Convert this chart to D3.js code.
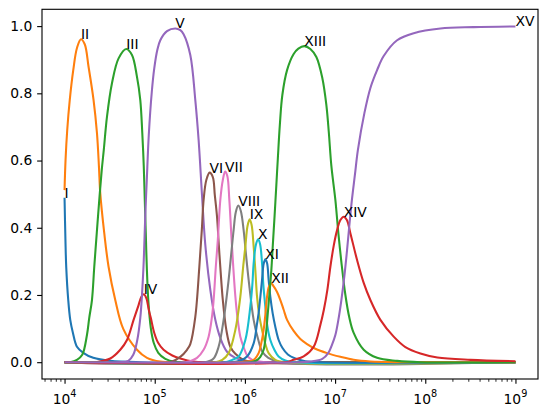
<!DOCTYPE html>
<html><head><meta charset="utf-8">
<script src="https://cdn.jsdelivr.net/npm/d3@7"></script>
<style>body{margin:0;background:#fff} svg{display:block} text{font-family:"DejaVu Sans",sans-serif}</style>
</head><body>
<svg id="chart" width="547" height="417"></svg>
<script>
const labels = ["I","II","III","IV","V","VI","VII","VIII","IX","X","XI","XII","XIII","XIV","XV"];
const colors = ["#1f77b4","#ff7f0e","#2ca02c","#d62728","#9467bd","#8c564b","#e377c2","#7f7f7f","#bcbd22","#17becf","#1f77b4","#ff7f0e","#2ca02c","#d62728","#9467bd"];

const curveI = [[1e4,0.489],[1.023e4,0.364],[1.044e4,0.283],[1.099e4,0.185],[1.157e4,0.126],[1.239e4,0.087],[1.373e4,0.046],[1.612e4,0.028],[2.082e4,0.013],[3.214e4,0.004],[7e4,0],[1e9,0]];
const curveII = [[1e4,0.512],[1.026e4,0.602],[1.071e4,0.691],[1.142e4,0.780],[1.249e4,0.869],[1.373e4,0.935],[1.520e4,0.961],[1.675e4,0.946],[1.846e4,0.879],[2.098e4,0.780],[2.288e4,0.682],[2.407e4,0.582],[2.489e4,0.503],[2.757e4,0.384],[3.077e4,0.284],[3.651e4,0.185],[4.479e4,0.099],[6.357e4,0.037],[8.207e4,0.013],[1.153e5,0.002],[1.922e5,0],[1e9,0]];
const curveIII = [[1e4,0],[1.157e4,0],[1.373e4,0.007],[1.572e4,0.022],[1.772e4,0.081],[1.879e4,0.132],[2.014e4,0.185],[2.136e4,0.284],[2.276e4,0.384],[2.427e4,0.483],[2.586e4,0.572],[2.722e4,0.631],[2.954e4,0.730],[3.356e4,0.830],[3.973e4,0.904],[4.836e4,0.932],[5.594e4,0.914],[6.357e4,0.849],[6.918e4,0.780],[7.278e4,0.682],[7.561e4,0.582],[7.757e4,0.483],[7.958e4,0.384],[8.165e4,0.284],[8.485e4,0.185],[9.042e4,0.102],[9.763e4,0.057],[1.095e5,0.028],[1.310e5,0.010],[1.691e5,0.001],[2.2e5,0],[1e9,0]];
const curveIV = [[1e4,0],[2.191e4,0],[3.214e4,0.011],[4.150e4,0.037],[4.923e4,0.066],[5.829e4,0.126],[6.622e4,0.170],[7.094e4,0.194],[7.561e4,0.202],[8.061e4,0.191],[8.592e4,0.156],[9.042e4,0.132],[9.888e4,0.087],[1.095e5,0.057],[1.254e5,0.037],[1.566e5,0.020],[1.922e5,0.011],[2.678e5,0.002],[4.136e5,0],[1e9,0]];
const curveV = [[1e4,0],[3.943e4,0],[5.090e4,0.004],[5.783e4,0.022],[6.406e4,0.066],[6.918e4,0.132],[7.278e4,0.215],[7.561e4,0.304],[7.859e4,0.438],[8.165e4,0.542],[8.592e4,0.676],[9.277e4,0.804],[9.888e4,0.875],[1.068e5,0.929],[1.153e5,0.958],[1.368e5,0.985],[1.691e5,0.993],[1.922e5,0.988],[2.090e5,0.976],[2.480e5,0.914],[2.818e5,0.780],[3.067e5,0.661],[3.344e5,0.497],[3.638e5,0.349],[4.135e5,0.215],[4.697e5,0.126],[5.337e5,0.072],[6.334e5,0.031],[7.829e5,0.013],[1.011e6,0.004],[1.305e6,0],[1e9,0]];
const curveVI = [[1e4,0],[1.488e5,0],[1.921e5,0.016],[2.280e5,0.037],[2.480e5,0.054],[2.818e5,0.135],[3.122e5,0.283],[3.327e5,0.393],[3.484e5,0.483],[3.733e5,0.542],[4.060e5,0.564],[4.407e5,0.551],[4.638e5,0.497],[4.906e5,0.433],[5.136e5,0.349],[5.337e5,0.283],[5.689e5,0.185],[6.222e5,0.096],[6.889e5,0.046],[7.829e5,0.025],[9.678e5,0.007],[1.305e6,0],[1e9,0]];
const curveVII = [[1e4,0],[2.183e5,0],[2.943e5,0.013],[3.484e5,0.037],[3.958e5,0.076],[4.317e5,0.136],[4.498e5,0.185],[4.757e5,0.284],[5.007e5,0.364],[5.337e5,0.483],[5.689e5,0.542],[6.034e5,0.567],[6.383e5,0.554],[6.718e5,0.483],[7.068e5,0.379],[7.437e5,0.281],[7.829e5,0.197],[8.240e5,0.136],[8.897e5,0.076],[9.678e5,0.045],[1.064e6,0.019],[1.209e6,0.007],[1.685e6,0],[1e9,0]];
const curveVIII = [[1e4,0],[3.638e5,0],[4.464e5,0.010],[5.109e5,0.046],[5.806e5,0.126],[6.598e5,0.245],[7.067e5,0.325],[7.496e5,0.393],[7.930e5,0.447],[8.453e5,0.466],[9.010e5,0.450],[9.678e5,0.393],[1.024e6,0.325],[1.100e6,0.245],[1.250e6,0.126],[1.409e6,0.066],[1.561e6,0.031],[1.819e6,0.013],[2.472e6,0],[1e9,0]];
const curveIX = [[1e4,0],[4.697e5,0],[5.617e5,0.007],[6.598e5,0.027],[7.829e5,0.096],[8.897e5,0.195],[9.605e5,0.289],[1.011e6,0.344],[1.069e6,0.405],[1.128e6,0.425],[1.187e6,0.408],[1.250e6,0.344],[1.305e6,0.274],[1.363e6,0.195],[1.445e6,0.138],[1.549e6,0.096],[1.685e6,0.054],[1.833e6,0.027],[2.175e6,0.007],[2.808e6,0],[1e9,0]];
const curveX = [[1e4,0],[6.065e5,0],[7.250e5,0.007],[8.518e5,0.017],[1.011e6,0.066],[1.148e6,0.165],[1.209e6,0.230],[1.250e6,0.294],[1.322e6,0.349],[1.398e6,0.366],[1.472e6,0.352],[1.549e6,0.294],[1.601e6,0.230],[1.685e6,0.165],[1.773e6,0.108],[1.914e6,0.066],[2.121e6,0.037],[2.367e6,0.017],[2.808e6,0.005],[3.626e6,0],[1e9,0]];
const curveXI = [[1e4,0],[7.250e5,0],[8.897e5,0.005],[1.056e6,0.017],[1.250e6,0.056],[1.356e6,0.111],[1.419e6,0.146],[1.483e6,0.194],[1.549e6,0.245],[1.613e6,0.292],[1.685e6,0.306],[1.760e6,0.295],[1.833e6,0.245],[1.914e6,0.194],[2.030e6,0.146],[2.175e6,0.105],[2.367e6,0.066],[2.601e6,0.043],[2.993e6,0.023],[3.626e6,0.011],[4.680e6,0.003],[6.866e6,0],[1e9,0]];
const curveXII = [[1e4,0],[8.897e5,0],[1.250e6,0.007],[1.419e6,0.027],[1.521e6,0.057],[1.613e6,0.096],[1.685e6,0.141],[1.760e6,0.195],[1.843e6,0.224],[1.954e6,0.235],[2.067e6,0.227],[2.272e6,0.209],[2.472e6,0.185],[2.689e6,0.156],[2.934e6,0.126],[3.471e6,0.093],[4.119e6,0.069],[4.888e6,0.054],[6.042e6,0.040],[8.147e6,0.027],[1.145e7,0.016],[1.607e7,0.007],[2.463e7,0.002],[5.300e7,0],[1e9,0]];
const curveXIII = [[1e4,0],[1.148e6,0],[1.339e6,0.005],[1.483e6,0.016],[1.613e6,0.037],[1.707e6,0.081],[1.782e6,0.136],[1.866e6,0.200],[1.964e6,0.274],[2.040e6,0.349],[2.131e6,0.433],[2.231e6,0.527],[2.319e6,0.607],[2.440e6,0.706],[2.601e6,0.795],[2.934e6,0.869],[3.471e6,0.917],[3.914e6,0.933],[4.562e6,0.9405],[5.319e6,0.932],[6.200e6,0.908],[7.226e6,0.845],[8.004e6,0.765],[8.531e6,0.682],[9.093e6,0.584],[1.007e7,0.483],[1.087e7,0.384],[1.174e7,0.298],[1.301e7,0.200],[1.440e7,0.132],[1.607e7,0.087],[2.076e7,0.037],[2.922e7,0.013],[4.871e7,0.004],[8.834e7,0],[1e9,0]];
const curveXIV = [[1e4,0],[2.808e6,0],[3.471e6,0.007],[4.482e6,0.017],[5.786e6,0.046],[6.866e6,0.111],[7.507e6,0.156],[8.209e6,0.215],[8.864e6,0.284],[9.694e6,0.349],[1.052e7,0.393],[1.145e7,0.423],[1.245e7,0.433],[1.351e7,0.423],[1.477e7,0.384],[1.753e7,0.304],[2.076e7,0.236],[2.463e7,0.185],[3.180e7,0.126],[4.466e7,0.076],[6.023e7,0.045],[8.834e7,0.026],[1.364e8,0.014],[3.168e8,0.007],[1e9,0.003]];
const curveXV = [[1e4,0],[4.119e6,0],[5.319e6,0.002],[7.226e6,0.010],[8.424e6,0.028],[9.211e6,0.051],[1.007e7,0.081],[1.087e7,0.126],[1.174e7,0.185],[1.268e7,0.257],[1.358e7,0.334],[1.440e7,0.408],[1.536e7,0.483],[1.658e7,0.557],[1.789e7,0.631],[2.113e7,0.741],[2.463e7,0.816],[2.922e7,0.869],[3.458e7,0.911],[4.871e7,0.958],[7.441e7,0.979],[1.472e8,0.993],[3.446e8,0.997],[1e9,0.999]];

const series = [curveI,curveII,curveIII,curveIV,curveV,curveVI,curveVII,curveVIII,curveIX,curveX,curveXI,curveXII,curveXIII,curveXIV,curveXV];

const xTickValues = [1e4,1e5,1e6,1e7,1e8,1e9];
const xTickExponents = ["4","5","6","7","8","9"];
const yTickValues = [0,0.2,0.4,0.6,0.8,1.0];

const m = {left:42, right:538, top:9.3, bottom:379};
const x = d3.scaleLog().domain([Math.pow(10,3.75), Math.pow(10,9.25)]).range([m.left, m.right]);
const y = d3.scaleLinear().domain([-0.05, 1.05]).range([m.bottom, m.top]);
const svg = d3.select("#chart");
const FS = 13.89;

svg.append("defs").append("clipPath").attr("id","clip")
  .append("rect").attr("x",m.left).attr("y",m.top).attr("width",m.right-m.left).attr("height",m.bottom-m.top);

const line = d3.line().x(d=>x(d[0])).y(d=>y(d[1])).curve(d3.curveCatmullRom.alpha(0.5));
const plot = svg.append("g").attr("clip-path","url(#clip)");
series.forEach((s,i)=>{
  plot.append("path").datum(s).attr("d",line).attr("fill","none")
    .attr("stroke",colors[i]).attr("stroke-width",2.08).attr("stroke-linejoin","round").attr("stroke-linecap","butt");
});

// peak labels
series.forEach((s,i)=>{
  const pk = s.reduce((a,b)=> b[1]>a[1]?b:a);
  svg.append("text").attr("x",x(pk[0])).attr("y",y(pk[1])).attr("font-size",FS).attr("fill","#000").text(labels[i]);
});

// minor x ticks
const minor = [];
for (let k=3;k<=9;k++) for (let d=2;d<=9;d++){ const v=d*Math.pow(10,k); if (v>=x.domain()[0] && v<=x.domain()[1]) minor.push(v); }

const gx = svg.append("g").attr("transform",`translate(0,${m.bottom})`);
gx.call(d3.axisBottom(x).tickValues(minor).tickSize(2.78).tickFormat(""));
gx.selectAll(".tick line").attr("stroke","#000").attr("stroke-width",0.83);
const gx2 = svg.append("g").attr("transform",`translate(0,${m.bottom})`);
gx2.call(d3.axisBottom(x).tickValues(xTickValues).tickSize(4.86).tickFormat(""));
gx2.selectAll(".tick line").attr("stroke","#000").attr("stroke-width",1.11);
svg.selectAll(".domain").remove();
xTickValues.forEach((v,i)=>{
  const t = svg.append("text").attr("x",x(v)).attr("y",403.5).attr("text-anchor","middle").attr("font-size",FS).attr("fill","#000");
  t.append("tspan").text("10");
  t.append("tspan").attr("dy",-6.3).attr("font-size",9.7).text(xTickExponents[i]);
});

const gy = svg.append("g").attr("transform",`translate(${m.left},0)`);
gy.call(d3.axisLeft(y).tickValues(yTickValues).tickSize(4.86).tickPadding(4.86).tickFormat(d3.format(".1f")));
gy.select(".domain").remove();
gy.selectAll(".tick line").attr("stroke","#000").attr("stroke-width",1.11);
gy.selectAll(".tick text").attr("font-size",FS).attr("font-family","DejaVu Sans").attr("fill","#000");

svg.append("rect").attr("x",m.left).attr("y",m.top).attr("width",m.right-m.left).attr("height",m.bottom-m.top)
  .attr("fill","none").attr("stroke","#000").attr("stroke-width",1.11);
</script>
</body></html>
